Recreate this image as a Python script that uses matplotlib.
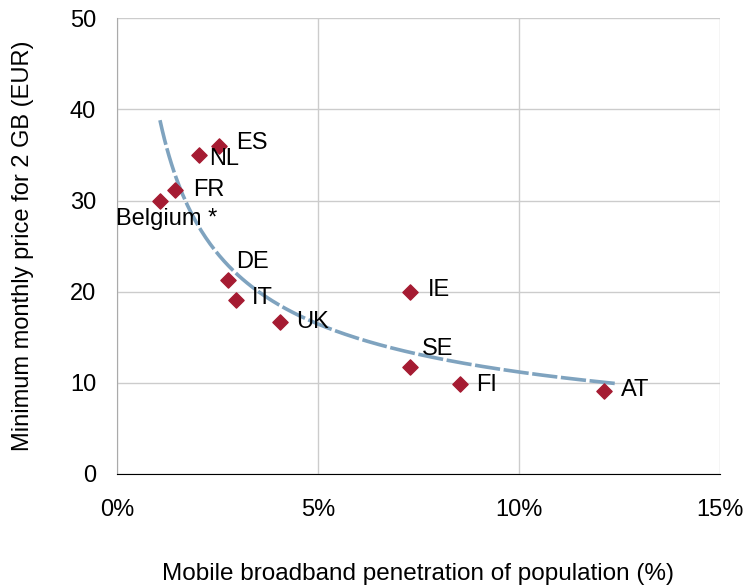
import numpy as np
import matplotlib
matplotlib.use("Agg")
import matplotlib.pyplot as plt

plt.rcParams['font.family'] = ['Liberation Sans', 'DejaVu Sans']

# Data
countries = ["Belgium *", "FR", "NL", "ES", "DE", "IT", "UK", "IE", "SE", "FI", "AT"]
penetration = [1.07, 1.44, 2.05, 2.54, 2.76, 2.96, 4.05, 7.29, 7.29, 8.53, 12.13]
price = [30.0, 31.2, 35.0, 36.0, 21.3, 19.1, 16.7, 20.0, 11.7, 9.9, 9.1]

# label offsets in points (dx, dy, ha)
label_pos = {
    "Belgium *": (5, -13, "center"),
    "FR": (13, 0, "left"),
    "NL": (7, -3, "left"),
    "ES": (12, 2, "left"),
    "DE": (6, 13, "left"),
    "IT": (11.5, 1.5, "left"),
    "UK": (12, 0, "left"),
    "IE": (13, 1, "left"),
    "SE": (9, 13, "left"),
    "FI": (12, -1, "left"),
    "AT": (12, 1, "left"),
}

fig = plt.figure(figsize=(7.45, 5.88), dpi=100)
ax = fig.add_axes([0.157, 0.194, 0.809, 0.775])

# power trend line fitted to the points
x = np.array(penetration)
y = np.array(price)
b, loga = np.polyfit(np.log(x), np.log(y), 1)
xs = np.linspace(1.07, 12.4, 200)
ax.plot(xs, np.exp(loga) * xs ** b, color="#7FA3BF", lw=2.6,
        dashes=(7, 1.0), zorder=2)

ax.scatter(penetration, price, marker="D", s=60, color="#A51B32", zorder=3)

for c, px, py in zip(countries, penetration, price):
    dx, dy, ha = label_pos[c]
    ax.annotate(c, (px, py), xytext=(dx, dy), textcoords="offset points",
                ha=ha, va="center", fontsize=17, color="black")

ax.set_xlim(0, 15)
ax.set_ylim(0, 50)
ax.set_xticks([0, 5, 10, 15])
ax.set_xticklabels(["0%", "5%", "10%", "15%"])
ax.set_yticks(range(0, 51, 10))
ax.grid(True, color="#CCCCCC", lw=1)
ax.set_axisbelow(True)
for s in ["top", "right"]:
    ax.spines[s].set_visible(False)
ax.spines["left"].set_color("#AAAAAA")
ax.spines["bottom"].set_color("black")
ax.tick_params(length=0, labelsize=17)
ax.tick_params(axis="y", pad=15)
ax.tick_params(axis="x", pad=18)
ax.set_xlabel("Mobile broadband penetration of population (%)", fontsize=17.5, labelpad=30)
ax.set_ylabel("Minimum monthly price for 2 GB (EUR)", fontsize=17, labelpad=26)

fig.savefig("out.png", dpi=100)
